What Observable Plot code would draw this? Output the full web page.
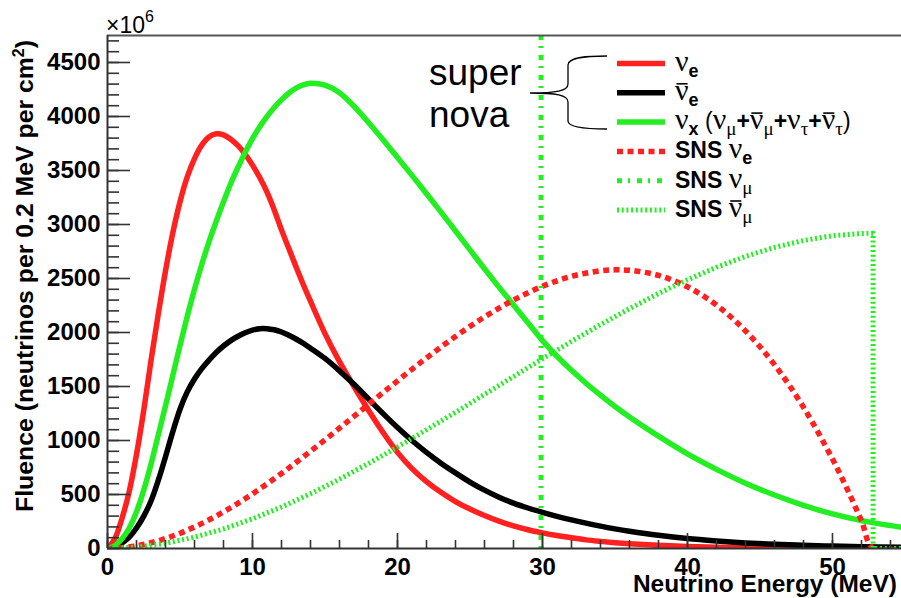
<!DOCTYPE html>
<html><head><meta charset="utf-8">
<script src="https://cdn.jsdelivr.net/npm/d3@7"></script>
<script src="https://cdn.jsdelivr.net/npm/@observablehq/plot@0.6"></script>
<style>html,body{margin:0;padding:0;background:#fff;}#chart{width:901px;height:598px;}</style>
</head><body><div id="chart"></div>
<script>
// ---------- data ----------
// supernova spectra: energy grid (MeV)
const snE = [0,0.5,1,1.5,2,2.5,3,3.5,4,4.5,5,5.5,6,6.5,7,7.5,8,8.5,9,9.5,10,10.5,11,11.5,12,12.5,13,13.5,14,
  15,16,17,18,19,20,21,22,23,24,25,26,27,28,29,30,31,32,33,34,35,36,38,40,42,44,46,48,50,52,54.8];
// supernova nu_e (red)
const snNue = [0,90,280,530,870,1280,1740,2170,2570,2920,3210,3440,3610,3735,3810,3840,3830,3790,3730,3650,3550,3435,3300,3135,2950,2780,2610,2445,2290,
  1990,1730,1500,1280,1075,890,740,620,520,435,365,305,253,210,174,145,120,99,80,66,54,44,29,19,12,8,5,3,2,1,1];
// supernova anti-nu_e (black)
const snNuebar = [0,12,50,105,190,300,440,630,850,1080,1290,1450,1570,1665,1745,1815,1875,1925,1965,1998,2022,2035,2035,2025,2005,1975,1940,1900,1855,
  1760,1645,1520,1385,1250,1120,1000,890,790,700,615,540,475,420,375,335,298,265,235,207,182,160,122,92,70,52,39,29,22,16,11];
// supernova nu_x (green)
const snNux = [0,25,90,190,340,540,780,1050,1320,1600,1880,2150,2400,2630,2840,3030,3210,3380,3530,3670,3795,3905,4000,4083,4155,4215,4262,4293,4308,
  4290,4220,4095,3945,3785,3620,3455,3285,3115,2940,2765,2590,2420,2255,2090,1925,1780,1650,1530,1420,1315,1218,1040,876,733,605,495,400,320,258,196];
// SNS nu_e (red dotted)
const snsNueE = [0,2,4,6,8,10,12,14,16,18,20,22,24,26,28,30,32,34,35,36,38,40,42,44,46,48,50,51,52,52.8,54.8];
const snsNueF = [0,24,92,199,339,506,695,900,1115,1334,1552,1764,1963,2144,2300,2428,2520,2571,2580,2576,2529,2423,2254,2015,1702,1308,828,554,257,0,0];
// SNS anti-nu_mu (green dotted)
const snsNumubarE = [0,2,4,6,8,10,12,14,16,18,20,22,24,26,28,30,32,34,36,38,40,42,44,46,48,50,52,52.8,52.8,54.8];
const snsNumubarF = [0,12,48,105,181,275,384,507,642,787,939,1099,1261,1427,1592,1757,1918,2073,2221,2361,2488,2604,2704,2788,2852,2896,2917,2920,0,0];
// SNS nu_mu: monoenergetic line (MeV)
const snsNumuE = [29.9];

// axes
const xDomain = [0, 54.76];
const yDomain = [0, 4750];
const xTickLabels = [0, 10, 20, 30, 40, 50];
const yTickLabels = [0, 500, 1000, 1500, 2000, 2500, 3000, 3500, 4000, 4500];
const xTitle = "Neutrino Energy (MeV)";
const yTitle = "Fluence (neutrinos per 0.2 MeV per cm";
const multiplier = "×10";
const multiplierExp = "6";
const groupLabel = ["super", "nova"];
// legend labels: [text, kind]  g=greek, gb=greek with bar, s=latin subscript, sg=greek subscript, t=bold text, p=plain
const legendLabels = [
  [["ν","g"],["e","s"]],
  [["ν","gb"],["e","s"]],
  [["ν","g"],["x","s"],[" (","p"],["ν","g"],["μ","sg"],["+","t"],["ν","gb"],["μ","sg"],["+","t"],["ν","g"],["τ","sg"],["+","t"],["ν","gb"],["τ","sg"],[")","p"]],
  [["SNS ","t"],["ν","g"],["e","s"]],
  [["SNS ","t"],["ν","g"],["μ","sg"]],
  [["SNS ","t"],["ν","gb"],["μ","sg"]]
];

// ---------- styles ----------
const RED = "#ff2020", GREEN = "#22ee22", BLACK = "#000";
const seriesStyle = [
  {stroke: RED, width: 5.5, dash: null},
  {stroke: BLACK, width: 5.5, dash: null},
  {stroke: GREEN, width: 5.5, dash: null},
  {stroke: RED, width: 5.5, dash: "6 4.5"},
  {stroke: GREEN, width: 5, dash: "5 6 2 7"},
  {stroke: GREEN, width: 5, dash: "2 2.7"}
];

const W = 901, H = 598, mL = 107, mR = 0, mT = 35, mB = 50;
const fw = W - mL - mR, fh = H - mT - mB;
const rows = (E, F) => E.map((e, i) => ({E: e, F: F[i]}));
const yMinor = d3.range(0, 4750, 100);
const xMinor = d3.range(0, 54.76, 2);
const AX = "#333";

const lineOpts = (s, curve) => ({x: "E", y: "F", stroke: s.stroke, strokeWidth: s.width,
  strokeDasharray: s.dash || undefined, strokeLinecap: "butt", strokeLinejoin: "round", curve, clip: true});

const chart = Plot.plot({
  width: W, height: H,
  marginLeft: mL, marginRight: mR, marginTop: mT, marginBottom: mB,
  x: {domain: xDomain},
  y: {domain: yDomain},
  style: {fontFamily: "'Liberation Sans', Arial, sans-serif", fontSize: "24px", fontWeight: "bold", background: "#fff", color: "#000", overflow: "visible"},
  marks: [
    Plot.line(rows(snE, snNue), lineOpts(seriesStyle[0], "catmull-rom")),
    Plot.line(rows(snE, snNuebar), lineOpts(seriesStyle[1], "catmull-rom")),
    Plot.line(rows(snE, snNux), lineOpts(seriesStyle[2], "catmull-rom")),
    Plot.line(rows(snsNueE, snsNueF), lineOpts(seriesStyle[3], "catmull-rom")),
    Plot.ruleX(snsNumuE, {stroke: seriesStyle[4].stroke, strokeWidth: seriesStyle[4].width, strokeDasharray: seriesStyle[4].dash}),
    Plot.line(rows(snsNumubarE, snsNumubarF), lineOpts(seriesStyle[5], "linear")),
    // frame / axes lines
    Plot.ruleY([yDomain[1]], {stroke: "#555", strokeWidth: 2}),
    Plot.ruleX([xDomain[0]], {stroke: AX, strokeWidth: 2}),
    Plot.ruleY([yDomain[0]], {stroke: AX, strokeWidth: 2}),
    // inward ticks
    Plot.ruleY(yMinor, {stroke: AX, strokeWidth: 1.6, insetRight: fw - 12}),
    Plot.ruleY(yTickLabels, {stroke: AX, strokeWidth: 1.6, insetRight: fw - 23}),
    Plot.ruleX(xMinor, {stroke: AX, strokeWidth: 1.6, insetTop: fh - 8}),
    Plot.ruleX(xTickLabels, {stroke: AX, strokeWidth: 1.6, insetTop: fh - 15}),
    Plot.axisY(yTickLabels, {tickSize: 0, tickPadding: 7, tickFormat: d => String(d), label: null}),
    Plot.axisX(xTickLabels, {tickSize: 0, tickPadding: 9, tickFormat: d => String(d), label: null})
  ]
});
document.getElementById("chart").appendChild(chart);

// ---------- titles, legend, annotation ----------
const svg = d3.select(chart);
const ov = svg.append("g").attr("font-family", "'Liberation Sans', Arial, sans-serif")
  .attr("fill", "#000").attr("text-anchor", "start");

const mt = ov.append("text").attr("x", 106).attr("y", 33).attr("font-size", 23).attr("font-weight", "normal");
mt.append("tspan").text(multiplier);
mt.append("tspan").attr("dy", -11).attr("font-size", 16).text(multiplierExp);

const yt = ov.append("text").attr("transform", "translate(33,40) rotate(-90)").attr("text-anchor", "end")
  .attr("font-size", 24.8).attr("font-weight", "bold");
yt.append("tspan").text(yTitle);
yt.append("tspan").attr("dy", -9).attr("font-size", 16).text("2");
yt.append("tspan").attr("dy", 9).text(")");

ov.append("text").attr("x", 897).attr("y", 592).attr("text-anchor", "end")
  .attr("font-size", 24.5).attr("font-weight", "bold").text(xTitle);

// super / nova label and brace
ov.append("text").attr("x", 429).attr("y", 85).attr("font-size", 37).attr("font-weight", "normal").text(groupLabel[0]);
ov.append("text").attr("x", 429).attr("y", 127).attr("font-size", 37).attr("font-weight", "normal").text(groupLabel[1]);
ov.append("path")
  .attr("d", "M607,56 C588,56 568,57 568,65 L568,84 C568,91 556,93 530,93 C556,93 568,95 568,102 L568,121 C568,128 588,129 607,129")
  .attr("fill", "none").attr("stroke", "#000").attr("stroke-width", 1.3);

// legend
const GREEK = "'Liberation Serif', 'DejaVu Serif', serif";
legendLabels.forEach((parts, i) => {
  const y = 63.5 + i * 29.3;
  const s = seriesStyle[i];
  ov.append("line").attr("x1", 617).attr("x2", 665).attr("y1", y).attr("y2", y)
    .attr("stroke", s.stroke).attr("stroke-width", s.width)
    .attr("stroke-dasharray", s.dash).attr("stroke-linecap", "butt");
  const tx = ov.append("text").attr("x", 675).attr("y", y + 7);
  let low = false, idx = 0;
  const bars = [];
  parts.forEach(([t, k]) => {
    const ts = tx.append("tspan").text(t);
    const isSub = (k === "s" || k === "sg");
    if (isSub && !low) { ts.attr("dy", 6); low = true; }
    else if (!isSub && low) { ts.attr("dy", -6); low = false; }
    if (k === "g" || k === "gb") ts.attr("font-family", GREEK).attr("font-size", 30).attr("font-weight", "normal");
    else if (k === "sg") ts.attr("font-family", GREEK).attr("font-size", 19).attr("font-weight", "normal");
    else if (k === "s") ts.attr("font-size", 18).attr("font-weight", "bold");
    else if (k === "t") ts.attr("font-size", 23).attr("font-weight", "bold");
    else ts.attr("font-size", 23).attr("font-weight", "normal");
    if (k === "gb") bars.push(idx);
    idx += t.length;
  });
  bars.forEach(ci => {
    const r = tx.node().getExtentOfChar(ci);
    ov.append("line").attr("x1", r.x + 1.5).attr("x2", r.x + r.width - 1)
      .attr("y1", y - 9).attr("y2", y - 9).attr("stroke", "#000").attr("stroke-width", 1.6);
  });
});
</script>
</body></html>
